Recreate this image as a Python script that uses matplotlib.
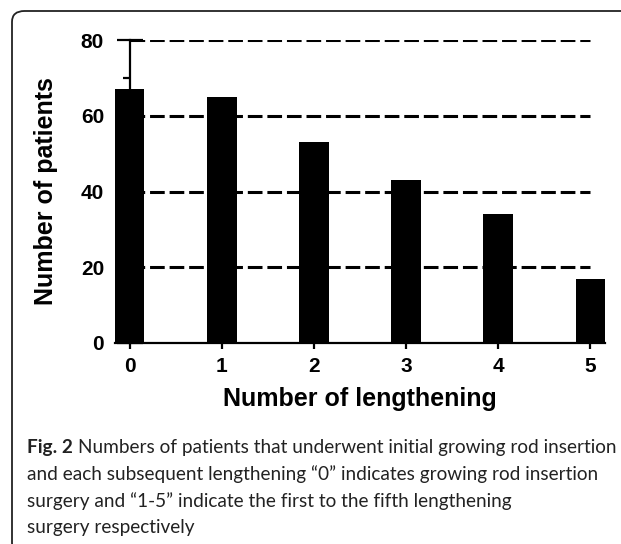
import matplotlib.pyplot as plt
from matplotlib.patches import FancyBboxPatch
from matplotlib.ticker import MultipleLocator

# number of lengthening procedures vs. patient count
lengthening = [0, 1, 2, 3, 4, 5]
patients = [67, 65, 53, 43, 34, 17]
grid_levels = [20, 40, 60, 80]

caption_bold = "Fig. 2"
caption_lines = [
    "Numbers of patients that underwent initial growing rod insertion",
    "and each subsequent lengthening \u201c0\u201d indicates growing rod insertion",
    "surgery and \u201c1-5\u201d indicate the first to the fifth lengthening",
    "surgery respectively",
]

W, H = 621, 544
fig = plt.figure(figsize=(W / 100, H / 100), dpi=100)

# rounded frame around the whole figure
frame = FancyBboxPatch(
    (12 / W, -10 / H), 660 / W, (H - 11 + 10) / H,
    boxstyle="round,pad=0,rounding_size=0.02",
    transform=fig.transFigure, fill=False, edgecolor="#222222", linewidth=1.3,
)
fig.add_artist(frame)

ax_bottom, ax_top = 343, 40
ax = fig.add_axes([115 / W, (H - ax_bottom) / H, 490 / W, (ax_bottom - ax_top) / H])
bold = {"family": "Liberation Sans", "weight": "bold"}

ax.hlines(grid_levels, lengthening[0], lengthening[-1], colors="black",
          linestyles=(0, (4.8, 1.6)), linewidth=2.2, zorder=1)
ax.bar(lengthening, patients, width=0.32, color="black", zorder=2)

ax.set_xlim(-0.16, 5.16)
ax.set_ylim(0, 80)
for side in ["top", "right"]:
    ax.spines[side].set_visible(False)
ax.spines["left"].set_position(("data", 0))
ax.spines["left"].set_linewidth(1.6)
ax.spines["left"].set_zorder(3)
ax.spines["bottom"].set_linewidth(1.6)
ax.spines["bottom"].set_zorder(3)

ax.yaxis.set_major_locator(MultipleLocator(20))
ax.yaxis.set_minor_locator(MultipleLocator(10))
ax.tick_params(axis="y", which="major", direction="inout", length=19, width=1.6, pad=9)
ax.tick_params(axis="y", which="minor", direction="out", length=5, width=1.6)
ax.set_xticks(lengthening)
ax.tick_params(axis="x", which="major", direction="out", length=4, width=1.6, pad=6)
for lbl in ax.get_xticklabels() + ax.get_yticklabels():
    lbl.set_fontproperties(bold)
    lbl.set_fontsize(15)

ax.set_xlabel("Number of lengthening", fontsize=18, labelpad=8, **bold)
ax.set_ylabel("Number of patients", fontsize=18, **bold)
ax.yaxis.set_label_coords(58 / W, 1 - (ax_bottom + ax_top) / 2 / H, transform=fig.transFigure)

# caption: bold figure number followed by regular text,
# font size chosen so the first line runs from x0 to x1
cap_font = "Lato"
cap_color = "#222222"
x0, x1 = 27, 617
baselines = [453, 480, 507, 533]
fig.canvas.draw()
r = fig.canvas.get_renderer()


def width_of(s, size, weight="normal"):
    t = fig.text(0, 0, s, fontsize=size, family=cap_font, weight=weight)
    w = t.get_window_extent(r).width
    t.remove()
    return w


ref = 10.0
line1 = width_of(caption_bold, ref, "bold") + width_of("a a", ref) - width_of("aa", ref) \
    + width_of(caption_lines[0], ref)
cap_size = ref * (x1 - x0) / line1

bw = width_of(caption_bold, cap_size, "bold")
sp = width_of("a a", cap_size) - width_of("aa", cap_size)
fig.text(x0 / W, 1 - baselines[0] / H, caption_bold, fontsize=cap_size,
         family=cap_font, weight="bold", color=cap_color, va="baseline")
fig.text((x0 + bw + sp) / W, 1 - baselines[0] / H, caption_lines[0], fontsize=cap_size,
         family=cap_font, color=cap_color, va="baseline")
for line, yb in zip(caption_lines[1:], baselines[1:]):
    fig.text(x0 / W, 1 - yb / H, line, fontsize=cap_size, family=cap_font,
             color=cap_color, va="baseline")

fig.savefig("out.png", dpi=100)
